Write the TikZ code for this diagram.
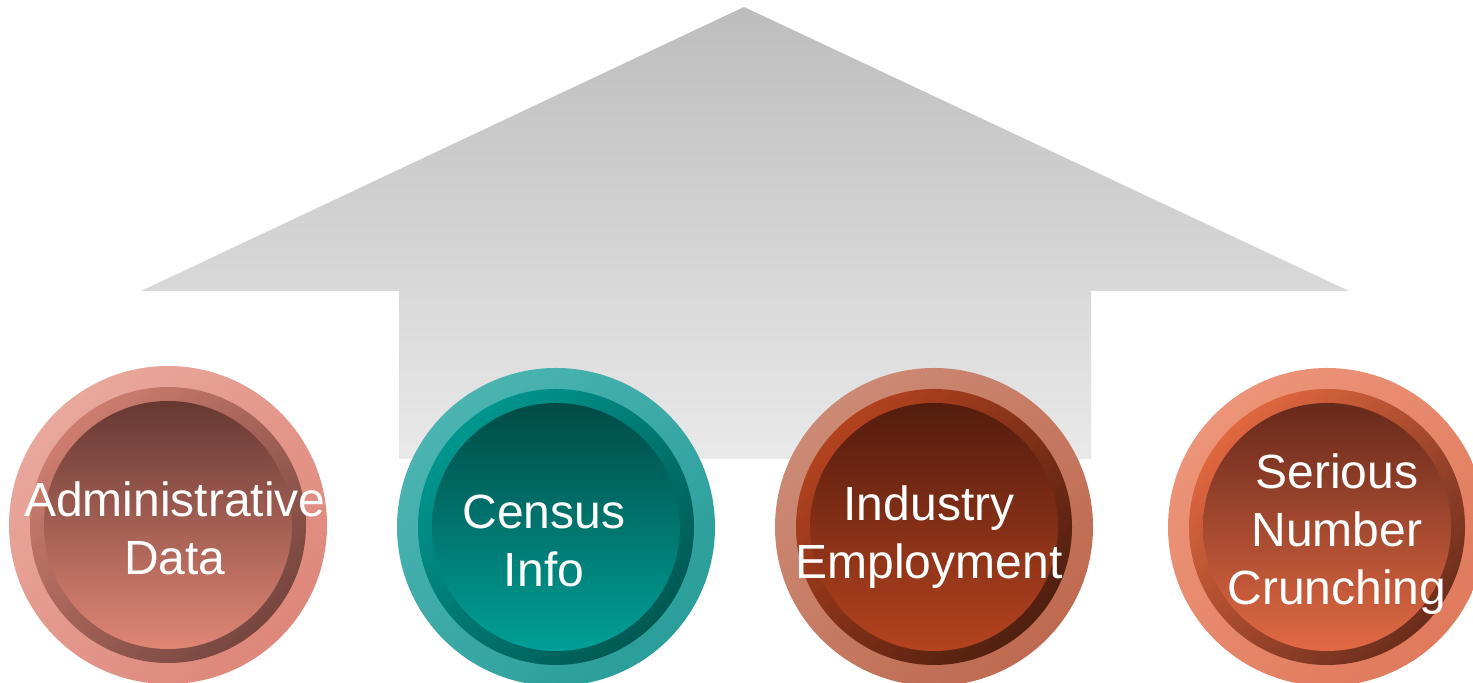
\documentclass[tikz,border=0pt]{standalone}
\usepackage{fontspec}
\setmainfont{Liberation Sans}
\definecolor{arrowTop}{HTML}{BDBDBD}
\definecolor{arrowBot}{HTML}{E9E9E9}
\definecolor{admOutA}{HTML}{E9A89D}
\definecolor{admOutB}{HTML}{DE877A}
\definecolor{admRingA}{HTML}{CD7D70}
\definecolor{admRingB}{HTML}{76463F}
\definecolor{admTop}{HTML}{663832}
\definecolor{admBot}{HTML}{E08675}
\definecolor{cenOutA}{HTML}{4BB4B1}
\definecolor{cenOutB}{HTML}{2A9E9A}
\definecolor{cenRingA}{HTML}{00968E}
\definecolor{cenRingB}{HTML}{005953}
\definecolor{cenTop}{HTML}{004B46}
\definecolor{cenBot}{HTML}{00A097}
\definecolor{indOutA}{HTML}{CC8A75}
\definecolor{indOutB}{HTML}{BF6A50}
\definecolor{indRingA}{HTML}{B3421F}
\definecolor{indRingB}{HTML}{4F1F10}
\definecolor{indTop}{HTML}{531C0E}
\definecolor{indBot}{HTML}{B5431F}
\definecolor{sncOutA}{HTML}{EC9479}
\definecolor{sncOutB}{HTML}{E07A5C}
\definecolor{sncRingA}{HTML}{E0673F}
\definecolor{sncRingB}{HTML}{6B2D1C}
\definecolor{sncTop}{HTML}{66291B}
\definecolor{sncBot}{HTML}{E26A44}
\tikzset{
  circtext/.style={text=white, align=center, inner sep=0pt,
    font=\fontsize{24}{29}\selectfont},
}
\begin{document}
\begin{tikzpicture}[x=0.5pt,y=0.5pt]
            \useasboundingbox (0,0) rectangle (1473,683);
            % big arrow
            \shade[top color=arrowTop, bottom color=arrowBot]
                (744,676) -- (1349,392) -- (1091,392) -- (1091,224)
                -- (399,224) -- (399,392) -- (141,392) -- cycle;
            \coordinate (adm) at (168,158);
            \coordinate (cen) at (556,156);
            \coordinate (ind) at (934,156);
            \coordinate (snc) at (1327,156);
            \foreach \p in {adm,cen,ind,snc}{
                \shade[top color=\p OutA, bottom color=\p OutB, shading angle=45] (\p) circle (159);
                \shade[top color=\p RingA, bottom color=\p RingB, shading angle=45] (\p) circle (138);
                \shade[top color=\p Top, bottom color=\p Bot] (\p) circle (124);
            }
            \node[circtext] (admtxt) at (175,155) {Administrative\\Data};
            \node[circtext] (centxt) at (544,142.5) {Census\\Info};
            \node[circtext] (indtxt) at (929,146) {Industry\\Employment};
            \node[circtext] (snctxt) at (1337,149) {Serious\\Number\\Crunching};
        \end{tikzpicture}
\end{document}
